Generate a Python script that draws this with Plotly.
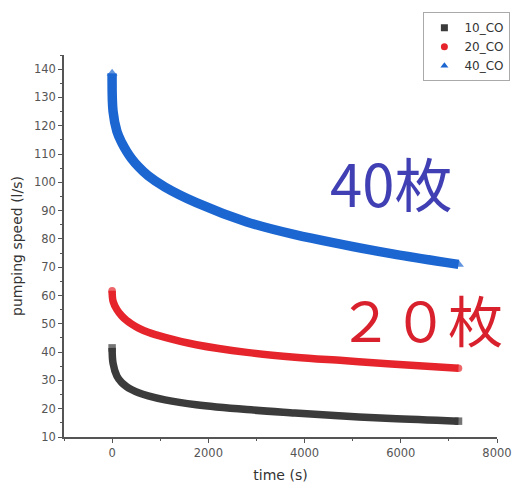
import plotly.graph_objects as go

# Sample times (s) and pumping speeds (l/s) for each CO run
time_s = [0, 20, 100, 200, 300, 400, 550, 750, 1100, 1750, 2800, 3800, 4800, 5800, 7200]
speed_10_co = [41.5, 36, 31.5, 29.2, 27.8, 26.8, 25.6, 24.5, 23.1, 21.4, 19.7, 18.5, 17.4, 16.5, 15.6]
speed_20_co = [61.7, 58, 55, 52.8, 51.2, 50, 48.5, 47, 45.2, 42.6, 39.9, 38.2, 37, 35.8, 34.3]
speed_40_co = [138.5, 125, 118, 114, 111, 108.5, 105.5, 102.3, 98.3, 92.8, 86, 81.5, 78, 74.8, 71]

series_names = ["10_CO", "20_CO", "40_CO"]
series_values = [speed_10_co, speed_20_co, speed_40_co]
series_colors = ["#3b3b3b", "#e5252b", "#1c66d2"]
series_symbols = ["square", "circle", "triangle-up"]
series_widths = [7.5, 7.5, 9.5]

fig = go.Figure()

for name, vals, col, sym, w in zip(series_names, series_values, series_colors,
                                    series_symbols, series_widths):
    # dense measurement band; symbols only visible at the two ends
    sizes = [0] * len(vals)
    sizes[0] = w
    sizes[-1] = w
    fig.add_trace(go.Scatter(
        x=time_s, y=vals, mode="lines+markers", name=name, showlegend=False,
        line=dict(color=col, width=w, shape="spline", smoothing=1.0),
        marker=dict(color=col, symbol=sym, size=sizes, line=dict(width=0)),
    ))

for name, col, sym in zip(series_names, series_colors, series_symbols):
    # legend entries show the symbol only
    fig.add_trace(go.Scatter(
        x=[None], y=[None], mode="markers", name=name,
        marker=dict(color=col, symbol=sym, size=7),
    ))

fig.add_annotation(x=5800, y=100, text="40枚", showarrow=False,
                   font=dict(family="Noto Sans CJK JP", size=58, color="#4040b4"))
fig.add_annotation(x=6400, y=52, text="２０枚", showarrow=False,
                   font=dict(family="Noto Sans CJK JP", size=55, color="#d8212d"))

axis_common = dict(
    showline=True, linecolor="#555555", linewidth=1.5, mirror=False,
    showgrid=False, zeroline=False,
    ticks="outside", ticklen=4, tickwidth=1, tickcolor="#555555",
    tickfont=dict(family="DejaVu Sans", size=11.5, color="#555555"),
)

fig.update_xaxes(
    range=[-1000, 8000], tick0=0, dtick=2000,
    minor=dict(ticks="outside", ticklen=2, dtick=1000, tickcolor="#555555"),
    title=dict(text="time (s)", font=dict(family="DejaVu Sans", size=14, color="#333333"),
               standoff=12),
    **axis_common,
)
fig.update_yaxes(
    range=[10, 145], tick0=10, dtick=10,
    minor=dict(ticks="outside", ticklen=2, dtick=5, tickcolor="#555555"),
    title=dict(text="pumping speed (l/s)", font=dict(family="DejaVu Sans", size=14, color="#333333"),
               standoff=8),
    **axis_common,
)

fig.update_layout(
    width=524, height=493,
    margin=dict(l=64, r=17, t=53, b=53),
    paper_bgcolor="white", plot_bgcolor="white",
    legend=dict(x=0.83, y=1.112, xanchor="left", yanchor="top",
                bgcolor="white", bordercolor="#aaaaaa", borderwidth=1,
                font=dict(family="DejaVu Sans", size=12, color="#333333"),
                tracegroupgap=0, itemwidth=30),
)

fig.write_html("out.html")
